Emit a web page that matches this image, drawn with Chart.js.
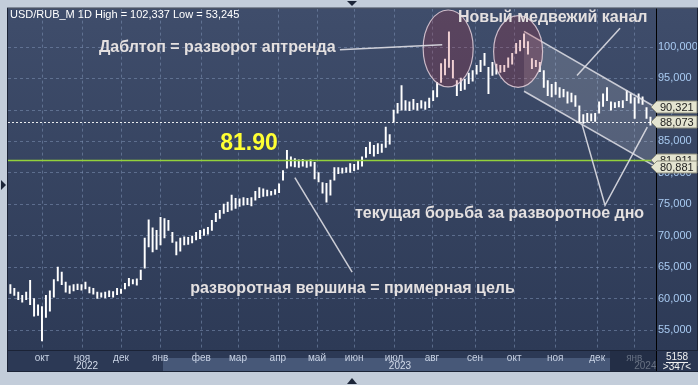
<!DOCTYPE html>
<html>
<head>
<meta charset="utf-8">
<script src="https://cdn.jsdelivr.net/npm/chart.js@4/dist/chart.umd.min.js"></script>
<style>
  html, body { margin: 0; padding: 0; background: #c3cdda; }
  #wrap { width: 698px; height: 385px; }
  canvas { display: block; }
</style>
</head>
<body>
<div id="wrap"><canvas id="chart"></canvas></div>
<script>
/* ===== Data ===== */
const lows = [
  60.8, 60.5, 59.8, 59.4, 59.8, 59.0, 57.2, 57.3, 53.245, 57.0,
  58.0, 60.2, 62.8, 62.2, 61.0, 60.8, 61.2, 61.4, 61.3, 61.5,
  60.9, 60.7, 60.0, 60.2, 60.1, 60.3, 60.2, 60.6, 60.8, 61.5,
  62.0, 62.3, 62.1, 63.0, 64.8, 68.2, 67.4, 67.8, 68.5, 69.6,
  70.8, 68.9, 66.9, 67.5, 68.5, 68.6, 68.8, 69.3, 69.5, 70.0,
  70.2, 70.8, 72.2, 72.7, 73.5, 73.8, 74.0, 74.3, 74.6, 74.8,
  74.9, 74.7, 75.6, 76.0, 76.2, 76.3, 76.4, 76.5, 76.8, 78.8,
  80.7, 81.0, 80.9, 80.8, 81.0, 80.8, 81.0, 79.0, 78.5, 76.7,
  75.3, 76.4, 78.8, 79.8, 79.9, 80.0, 80.0, 80.3, 80.5, 81.0,
  82.4, 83.0, 82.6, 83.0, 83.2, 84.0, 84.5, 88.0, 89.4, 89.9,
  89.9, 89.8, 90.0, 89.9, 90.2, 90.0, 90.3, 91.4, 92.0, 94.3,
  95.5, 96.7, 95.0, 92.2, 93.0, 93.2, 94.1, 94.5, 95.6, 96.0,
  97.0, 92.5, 95.4, 95.6, 95.9, 96.0, 96.7, 97.2, 98.9, 99.3,
  99.8, 98.8, 96.5, 96.8, 96.0, 93.5, 92.2, 92.0, 92.4, 91.9,
  92.0, 91.0, 91.2, 90.5, 88.0, 87.8, 88.0, 88.2, 88.1, 89.4,
  90.5, 91.4, 89.9, 90.3, 90.4, 90.3, 91.4, 91.0, 88.6, 91.0,
  90.8, 88.6, 87.5
];
const highs = [
  62.2, 61.6, 61.0, 60.5, 61.0, 62.9, 60.0, 59.0, 58.7, 60.5,
  61.2, 63.0, 65.0, 64.2, 62.6, 62.0, 62.2, 62.3, 62.2, 62.6,
  61.8, 61.6, 61.0, 60.9, 61.0, 61.2, 61.1, 61.6, 61.5, 62.4,
  63.2, 63.0, 63.1, 64.5, 69.6, 72.5, 71.2, 70.8, 72.9, 72.7,
  72.4, 70.5, 69.0, 69.6, 69.8, 69.7, 69.9, 70.5, 70.8, 71.0,
  71.3, 72.4, 73.5, 74.0, 75.0, 75.3, 76.4, 75.9, 75.8, 76.0,
  75.9, 76.0, 77.0, 77.6, 77.4, 77.2, 77.0, 77.3, 78.2, 80.3,
  83.5, 82.5, 82.2, 82.0, 82.1, 81.9, 82.0, 81.6, 80.0, 78.4,
  78.3, 78.8, 80.8, 80.8, 80.7, 80.8, 81.4, 81.3, 81.8, 82.5,
  84.0, 84.8, 84.3, 84.6, 84.5, 87.2, 86.0, 89.9, 91.0, 93.8,
  91.4, 91.2, 91.6, 91.0, 91.4, 91.2, 91.8, 93.0, 94.3, 97.3,
  98.0, 102.337, 97.8, 94.6, 95.0, 94.8, 95.8, 96.2, 97.0, 97.8,
  98.9, 96.7, 97.5, 97.2, 97.0, 97.0, 98.2, 98.9, 100.5, 101.0,
  102.0, 100.8, 98.1, 97.8, 97.5, 96.2, 94.6, 94.0, 94.3, 93.5,
  93.2, 92.8, 92.6, 92.2, 90.6, 89.2, 89.4, 89.3, 89.4, 91.2,
  92.5, 93.5, 91.2, 91.1, 91.3, 91.4, 93.0, 92.5, 91.9, 92.5,
  92.0, 90.3, 88.8
];

const monthPos = [8, 18.1, 28, 37.9, 48.3, 57.6, 67.7, 77.6, 87, 97.1, 106.7, 117.6, 127.5, 137.9, 148.5, 157.9];
const monthLabels = ['окт', 'ноя', 'дек', 'янв', 'фев', 'мар', 'апр', 'май', 'июн', 'июл', 'авг', 'сен', 'окт', 'ноя', 'дек', 'янв'];
const yearLabels = ['2022', '2023', '2024'];
const yearPos = [19.4, 98.6, 160.7];
const priceTicks = [55, 60, 65, 70, 75, 80, 85, 90, 95, 100];

const lastPrice = 88.073;
const supportLevel = 81.90;
const channelStart = 130;
const channelTop = [102.4, 90.321];
const channelBottom = [92.9, 80.881];

/* ===== Annotations (data units: bar index, price) ===== */
const ellipses = [
  { x: 110.8, y: 99.7, rx: 6.33, ry: 6.1 },
  { x: 128.5, y: 99.2, rx: 6.2, ry: 5.7 }
];
const pointers = [
  [[83.4, 99.5], [109.3, 100.3]],
  [[154.3, 102.9], [143.4, 95.4]],
  [[72.0, 79.2], [86.5, 64.2]],
  [[144.7, 87.6], [150.5, 74.8], [161.2, 87.2]]
];
const notes = [
  { text: 'Даблтоп = разворот аптренда', x: 22.4, y: 99.8 },
  { text: 'Новый медвежий канал', x: 113.3, y: 104.6 },
  { text: 'текущая борьба за разворотное дно', x: 87.2, y: 73.4 },
  { text: 'разворотная вершина = примерная цель', x: 45.5, y: 61.6 }
];
const priceTags = [
  { label: '90,321', v: 90.321 },
  { label: '88,073', v: 88.073 },
  { label: '81,911', v: 81.911 },
  { label: '80,881', v: 80.881 }
];

const FONT = '"Liberation Sans", Arial, sans-serif';
const NARROW = '"Liberation Sans Narrow", "Liberation Sans", Arial, sans-serif';

function fmt(v) {
  return v.toFixed(3).replace('.', ',');
}

/* ===== Background & frame ===== */
const backdrop = {
  id: 'backdrop',
  beforeDraw(chart) {
    const { ctx, chartArea: a, width, height } = chart;
    ctx.save();
    ctx.fillStyle = '#c3cdda';
    ctx.fillRect(0, 0, width, height);

    const g = ctx.createLinearGradient(0, a.top, 0, a.bottom);
    g.addColorStop(0, '#3f4d6b');
    g.addColorStop(1, '#2d3a56');
    ctx.fillStyle = g;
    ctx.fillRect(a.left, a.top, width - a.left, a.bottom - a.top);

    // time axis band
    ctx.fillStyle = '#2c3955';
    ctx.fillRect(a.left, a.bottom, width - a.left, 21);
    ctx.fillStyle = '#475878';
    ctx.fillRect(163, a.bottom + 8, 447, 13);

    // grid
    ctx.strokeStyle = 'rgba(125,145,180,0.55)';
    ctx.lineWidth = 1;
    ctx.setLineDash([3, 3]);
    const xs = chart.scales.x, ys = chart.scales.y;
    priceTicks.forEach(v => {
      const y = Math.round(ys.getPixelForValue(v)) + 0.5;
      ctx.beginPath(); ctx.moveTo(a.left, y); ctx.lineTo(a.right, y); ctx.stroke();
    });
    monthPos.forEach(v => {
      const x = Math.round(xs.getPixelForValue(v)) + 0.5;
      ctx.beginPath(); ctx.moveTo(x, a.top); ctx.lineTo(x, a.bottom); ctx.stroke();
    });
    ctx.setLineDash([]);

    // small arrows on frame
    ctx.fillStyle = '#1c2538';
    ctx.beginPath(); ctx.moveTo(347, 1); ctx.lineTo(357, 1); ctx.lineTo(352, 6); ctx.fill();
    ctx.beginPath(); ctx.moveTo(1, 180); ctx.lineTo(1, 190); ctx.lineTo(6, 185); ctx.fill();
    ctx.beginPath(); ctx.moveTo(347, 384); ctx.lineTo(357, 384); ctx.lineTo(352, 378); ctx.fill();
    ctx.restore();
  },
  afterDraw(chart) {
    const { ctx, chartArea: a, width } = chart;
    const xs = chart.scales.x;
    ctx.save();
    // year labels
    ctx.font = '10px ' + FONT;
    ctx.fillStyle = '#d3dbea';
    ctx.textAlign = 'center';
    ctx.textBaseline = 'middle';
    yearLabels.forEach((t, i) => ctx.fillText(t, xs.getPixelForValue(yearPos[i]), a.bottom + 16));

    // faded current-month box
    ctx.fillStyle = 'rgba(30,40,60,0.6)';
    ctx.fillRect(610, a.bottom + 1, a.right - 610, 20);

    // frame lines
    ctx.strokeStyle = '#1b2336';
    ctx.lineWidth = 1;
    ctx.strokeRect(a.left - 0.5, a.top - 0.5, width - a.left, a.bottom + 21 - a.top + 1);
    ctx.strokeStyle = '#000000';
    ctx.beginPath(); ctx.moveTo(a.right + 0.5, a.top); ctx.lineTo(a.right + 0.5, a.bottom + 21); ctx.stroke();
    ctx.strokeStyle = '#1b2336';
    ctx.beginPath(); ctx.moveTo(a.left, a.bottom + 0.5); ctx.lineTo(width, a.bottom + 0.5); ctx.stroke();

    // corner box
    ctx.fillStyle = '#2a3652';
    ctx.fillRect(a.right + 1, a.bottom + 1, width - a.right - 1, 20);
    ctx.fillStyle = '#f0f0f0';
    ctx.textAlign = 'center';
    ctx.fillText('5158', 677, a.bottom + 7);
    ctx.fillRect(666, a.bottom + 12, 22, 1);
    ctx.fillText('>347<', 677, a.bottom + 17);

    // price tags on the right axis
    const ys = chart.scales.y;
    ctx.font = '11px ' + FONT;
    ctx.textAlign = 'left';
    priceTags.forEach(t => {
      const y = Math.round(ys.getPixelForValue(t.v));
      ctx.beginPath();
      ctx.moveTo(651, y);
      ctx.lineTo(657, y - 6);
      ctx.lineTo(697, y - 6);
      ctx.lineTo(697, y + 6);
      ctx.lineTo(657, y + 6);
      ctx.closePath();
      ctx.fillStyle = '#e4e4d0';
      ctx.fill();
      ctx.strokeStyle = '#8d8d7c';
      ctx.stroke();
      ctx.fillStyle = '#1c1c1c';
      ctx.fillText(t.label, 660, y + 0.5);
    });

    // header
    ctx.font = '11px ' + NARROW;
    ctx.fillStyle = '#ffffff';
    ctx.textBaseline = 'middle';
    ctx.fillText('USD/RUB_M 1D High = 102,337 Low = 53,245', 10, 15);
    ctx.restore();
  }
};

/* ===== Channel, circles, levels, notes ===== */
const overlay = {
  id: 'overlay',
  afterDatasetsDraw(chart) {
    const { ctx, chartArea: a } = chart;
    const xs = chart.scales.x, ys = chart.scales.y;
    const px = v => xs.getPixelForValue(v);
    const py = v => ys.getPixelForValue(v);
    ctx.save();
    ctx.beginPath();
    ctx.rect(a.left, a.top, a.right - a.left, a.bottom - a.top);
    ctx.clip();

    // channel
    const x0 = px(channelStart), x1 = a.right;
    ctx.beginPath();
    ctx.moveTo(x0, py(channelTop[0]));
    ctx.lineTo(x1, py(channelTop[1]));
    ctx.lineTo(x1, py(channelBottom[1]));
    ctx.lineTo(x0, py(channelBottom[0]));
    ctx.closePath();
    ctx.fillStyle = 'rgba(255,255,255,0.15)';
    ctx.fill();
    ctx.strokeStyle = 'rgba(225,225,232,0.85)';
    ctx.lineWidth = 1.5;
    ctx.beginPath(); ctx.moveTo(x0, py(channelTop[0])); ctx.lineTo(x1, py(channelTop[1])); ctx.stroke();
    ctx.beginPath(); ctx.moveTo(x0, py(channelBottom[0])); ctx.lineTo(x1, py(channelBottom[1])); ctx.stroke();

    // circles
    ellipses.forEach(e => {
      const cx = px(e.x), cy = py(e.y);
      const rx = px(e.x + e.rx) - cx, ry = cy - py(e.y + e.ry);
      ctx.beginPath();
      ctx.ellipse(cx, cy, rx, ry, 0, 0, Math.PI * 2);
      ctx.fillStyle = 'rgba(185,40,55,0.22)';
      ctx.fill();
      ctx.strokeStyle = 'rgba(228,208,218,0.85)';
      ctx.lineWidth = 1.2;
      ctx.stroke();
    });

    // levels
    ctx.strokeStyle = 'rgba(255,255,255,0.9)';
    ctx.lineWidth = 1;
    ctx.setLineDash([2, 2]);
    let y = Math.round(py(lastPrice)) + 0.5;
    ctx.beginPath(); ctx.moveTo(a.left, y); ctx.lineTo(a.right, y); ctx.stroke();
    ctx.setLineDash([]);
    ctx.strokeStyle = '#93d13c';
    ctx.lineWidth = 1.5;
    y = py(supportLevel);
    ctx.beginPath(); ctx.moveTo(a.left, y); ctx.lineTo(a.right, y); ctx.stroke();

    // pointer lines
    ctx.strokeStyle = 'rgba(222,222,228,0.9)';
    ctx.lineWidth = 1.5;
    pointers.forEach(p => {
      ctx.beginPath();
      p.forEach((pt, i) => i ? ctx.lineTo(px(pt[0]), py(pt[1])) : ctx.moveTo(px(pt[0]), py(pt[1])));
      ctx.stroke();
    });

    // notes
    ctx.textBaseline = 'middle';
    ctx.textAlign = 'left';
    ctx.font = 'bold 16px ' + FONT;
    ctx.fillStyle = '#e4e0e0';
    notes.forEach(n => ctx.fillText(n.text, px(n.x), py(n.y)));
    ctx.font = 'bold 23px ' + FONT;
    ctx.fillStyle = '#ffff33';
    ctx.fillText('81.90', px(53.1), py(84.6));
    ctx.restore();
  }
};

/* ===== Chart ===== */
const bars = lows.map((lo, i) => ({ x: i, y: [lo, highs[i]] }));

new Chart(document.getElementById('chart'), {
  type: 'bar',
  data: {
    datasets: [{
      data: bars,
      backgroundColor: '#ffffff',
      borderWidth: 0,
      barThickness: 1.3
    }]
  },
  options: {
    responsive: true,
    maintainAspectRatio: false,
    animation: false,
    devicePixelRatio: 1,
    layout: { padding: { left: 8, top: 8, right: 0, bottom: 14 } },
    plugins: { legend: { display: false }, tooltip: { enabled: false } },
    scales: {
      x: {
        type: 'linear',
        offset: false,
        min: -0.6,
        max: 163.4,
        grid: { display: false, drawTicks: false },
        border: { display: false },
        afterBuildTicks: s => { s.ticks = monthPos.map(v => ({ value: v })); },
        afterFit: s => { s.height = 21; },
        ticks: {
          autoSkip: false,
          maxRotation: 0,
          padding: 2,
          color: '#c8d2e4',
          font: { family: FONT, size: 10 },
          callback: (v, i) => monthLabels[i]
        }
      },
      y: {
        position: 'right',
        min: 51.82,
        max: 106.02,
        grid: { display: false, drawTicks: false },
        border: { display: false },
        afterBuildTicks: s => { s.ticks = priceTicks.map(v => ({ value: v })); },
        afterFit: s => { s.width = 42; },
        ticks: {
          padding: 2,
          color: '#a9cbf2',
          font: { family: FONT, size: 11 },
          callback: v => fmt(v)
        }
      }
    }
  },
  plugins: [backdrop, overlay]
});
</script>
</body>
</html>
